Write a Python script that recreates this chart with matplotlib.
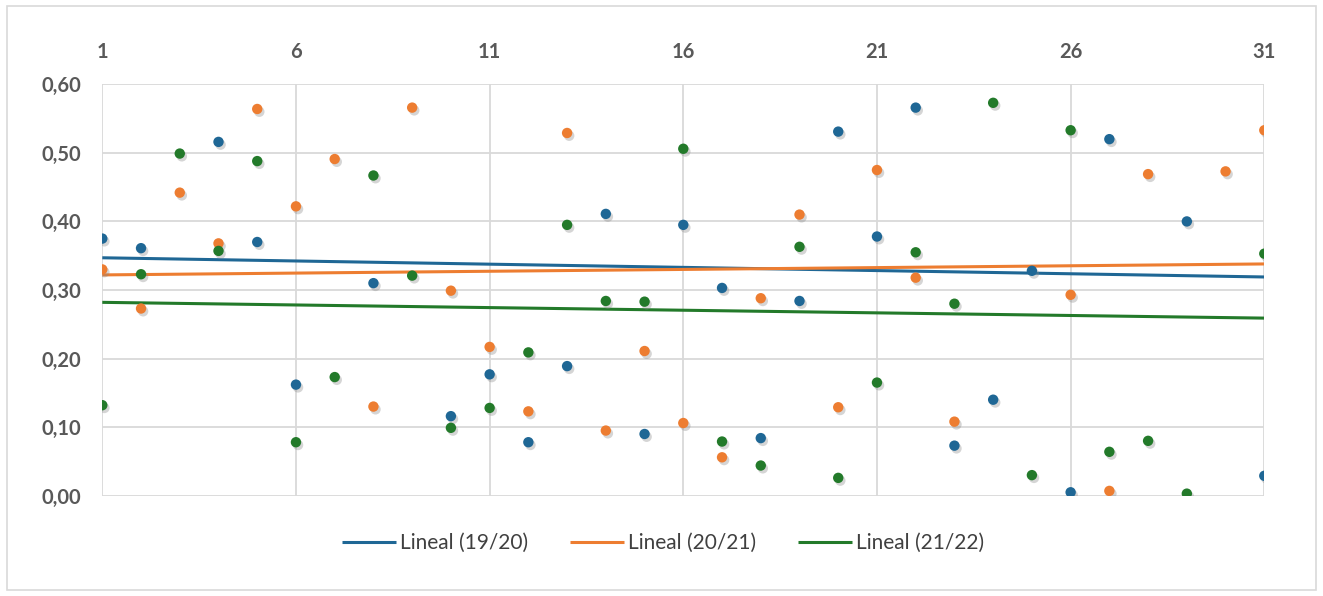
import numpy as np
import matplotlib
matplotlib.use("Agg")
import matplotlib.pyplot as plt
import matplotlib.patheffects as pe
from matplotlib.patches import Rectangle

days = list(range(1, 32))
nan = np.nan
s1920 = [0.375, 0.361, nan, 0.516, 0.370, 0.162, nan, 0.310, nan, 0.116,
         0.177, 0.078, 0.189, 0.411, 0.090, 0.395, 0.303, 0.084, 0.284, 0.531,
         0.378, 0.566, 0.073, 0.140, 0.328, 0.005, 0.520, nan, 0.400, nan, 0.029]
s2021 = [0.330, 0.273, 0.442, 0.368, 0.564, 0.422, 0.491, 0.130, 0.566, 0.299,
         0.217, 0.123, 0.529, 0.095, 0.211, 0.106, 0.056, 0.288, 0.410, 0.129,
         0.475, 0.318, 0.108, nan, nan, 0.293, 0.007, 0.469, nan, 0.473, 0.533]
s2122 = [0.132, 0.323, 0.499, 0.357, 0.488, 0.078, 0.173, 0.467, 0.321, 0.099,
         0.128, 0.209, 0.395, 0.284, 0.283, 0.506, 0.079, 0.044, 0.363, 0.026,
         0.165, 0.355, 0.280, 0.573, 0.030, 0.533, 0.064, 0.080, 0.003, nan, 0.353]
# trend line values (as shown by the chart) at day 1 and day 31
trend_day1 = [0.347, 0.322, 0.282]
trend_day31 = [0.319, 0.338, 0.259]
labels = ["Lineal (19/20)", "Lineal (20/21)", "Lineal (21/22)"]
colors = ["#1F6795", "#ED7D31", "#237A2A"]
xticks = [1, 6, 11, 16, 21, 26, 31]
yticks = [0.0, 0.1, 0.2, 0.3, 0.4, 0.5, 0.6]

plt.rcParams['font.family'] = ['Lato', 'DejaVu Sans']

fig = plt.figure(figsize=(13.23, 5.96), dpi=100)
fig.patches.append(Rectangle((7/1323, 6/596), 1309/1323, 584/596, transform=fig.transFigure,
                             fill=False, edgecolor="#D9D9D9", linewidth=1.2))
ax = fig.add_axes([102.3/1323, 1-495.7/596, (1264.3-102.3)/1323, (495.7-84.3)/596])

x = np.array(days, dtype=float)
handles = []
for ser, col, lab, t0, t1 in zip([s1920, s2021, s2122], colors, labels, trend_day1, trend_day31):
    y = np.array(ser, dtype=float)
    m = ~np.isnan(y)
    sc = ax.scatter(x[m], y[m], s=56, color=col, zorder=4, linewidths=0)
    sc.set_path_effects([pe.SimplePatchShadow(offset=(1.5, -2.0), shadow_rgbFace="#888888", alpha=0.35),
                         pe.Normal()])
    ln, = ax.plot([days[0], days[-1]], [t0, t1], color=col, lw=2.2, zorder=3, label=lab,
                  solid_capstyle='butt')
    handles.append(ln)

ax.set_xlim(1, 31)
ax.set_ylim(0, 0.6)
ax.set_xticks(xticks)
ax.set_yticks(yticks)
ax.set_yticklabels([f"{v:.2f}".replace(".", ",") for v in yticks])
ax.xaxis.tick_top()
ax.tick_params(axis='x', length=0, pad=16, labelsize=14.5, labelcolor="#595959")
ax.tick_params(axis='y', length=0, pad=15, labelsize=14.5, labelcolor="#595959")
for t in ax.get_xticklabels() + ax.get_yticklabels():
    t.set_fontweight('bold')
for s in ax.spines.values():
    s.set_visible(False)
ax.grid(True, color="#D9D9D9", lw=1.3, zorder=0)
ax.set_axisbelow(True)
ax.patch.set_alpha(0)

fig.legend(handles=handles, labels=labels, loc='center', bbox_to_anchor=(663/1323, 1-543/596),
           ncol=3, frameon=False, fontsize=15, handlelength=2.6, handletextpad=0.2,
           columnspacing=2.0, labelcolor="#404040")

fig.savefig("out.png", dpi=100)
